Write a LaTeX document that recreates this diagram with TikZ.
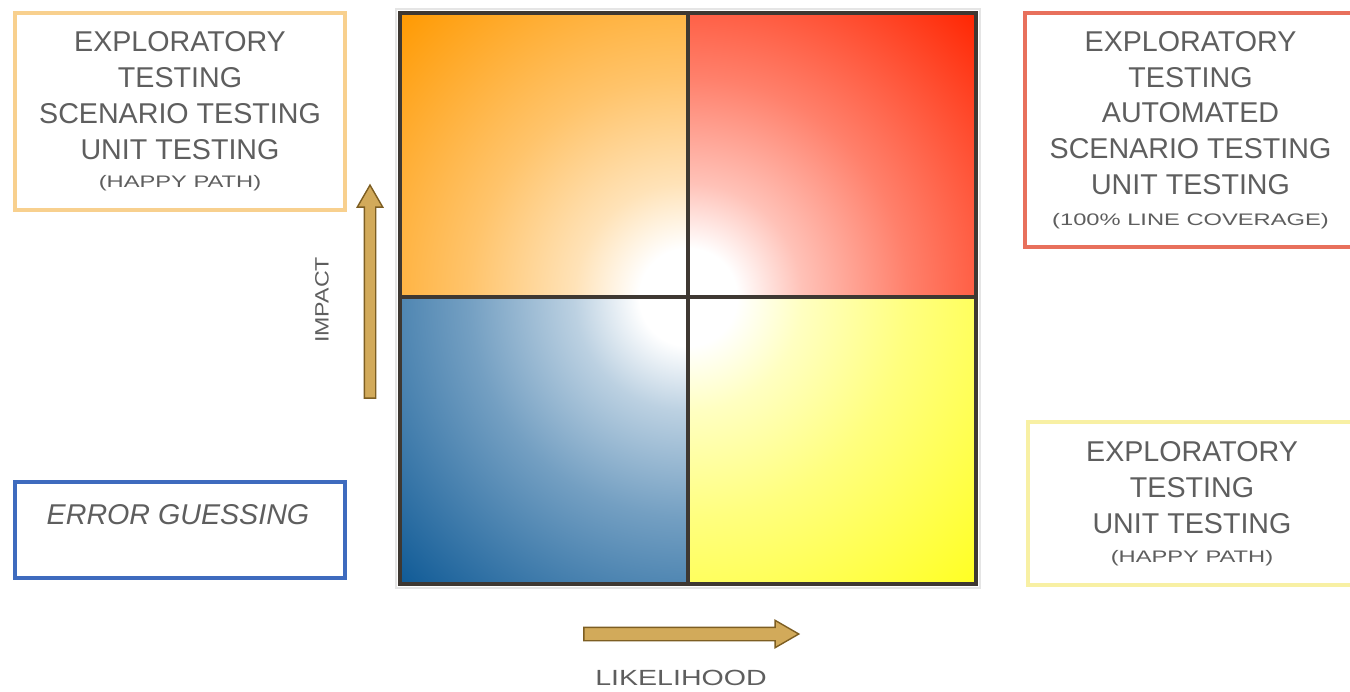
\documentclass[tikz,border=0pt]{standalone}
\usepackage{fontspec}
\setmainfont{Liberation Sans}
\usepackage{graphicx}
\usepackage{pgf, tikz}
\usetikzlibrary{shapes.arrows}
\pgfdeclarelayer{edgelayer}
\pgfdeclarelayer{nodelayer}
\pgfsetlayers{edgelayer,nodelayer,main}
\definecolor{txtgray}{HTML}{5E5E5E}
\definecolor{orangeq}{HTML}{FF9900}
\definecolor{redq}{HTML}{FF2400}
\definecolor{blueq}{HTML}{0F5A96}
\definecolor{yellowq}{HTML}{FFFF22}
\definecolor{orangeline}{HTML}{F8D08E}
\definecolor{redline}{HTML}{E8705C}
\definecolor{yellowline}{HTML}{F8F0A4}
\definecolor{blueline}{HTML}{3E6BBE}
\definecolor{gridline}{HTML}{3E3832}
\definecolor{arrowfill}{HTML}{D2AA5A}
\definecolor{arrowline}{HTML}{7D5E22}
\colorlet{qcol}{orangeq}
\pgfdeclareradialshading[qcol]{quadrant}{\pgfpoint{0bp}{0bp}}{color(0bp)=(white); color(3bp)=(white); color(7bp)=(qcol!28); color(13.5bp)=(qcol!58); color(25bp)=(qcol); color(50bp)=(qcol)}
\newcommand{\bigtxt}{\fontsize{16.3}{20.4}\selectfont}
\newcommand{\smalltxt}[1]{{\fontsize{9.5}{11}\selectfont\scalebox{1.42}[1]{#1}}}
\tikzstyle{grid}=[draw=gridline, line width=1.9pt]
\tikzstyle{notebox}=[rectangle, fill=white, line width=1.8pt, text=txtgray, align=center, font=\bigtxt, inner sep=0pt]
\tikzstyle{orangebox}=[notebox, draw=orangeline, minimum width=6.6cm, minimum height=3.94cm]
\tikzstyle{redbox}=[notebox, draw=redline, minimum width=6.62cm, minimum height=4.68cm]
\tikzstyle{yellowbox}=[notebox, draw=yellowline, minimum width=6.56cm, minimum height=3.26cm]
\tikzstyle{bluebox}=[notebox, draw=blueline, minimum width=6.6cm, minimum height=1.92cm]
\tikzstyle{label}=[text=txtgray, inner sep=0pt]
\tikzstyle{axisarrow}=[single arrow, draw=arrowline, fill=arrowfill, line width=0.8pt, inner xsep=0pt, inner ysep=0.1cm, single arrow head extend=0.14cm, single arrow tip angle=60]
\begin{document}
\begin{tikzpicture}[x=0.02cm, y=-0.02cm]
	\useasboundingbox (0,0) rectangle (1350,691);
	\begin{pgfonlayer}{edgelayer}
		\foreach \xa/\ya/\qc in {400/13/orangeq, 688/13/redq, 400/297/blueq, 688/297/yellowq}{
			\colorlet{qcol}{\qc}
			\begin{scope}
				\clip (\xa,\ya) rectangle ++(288,287);
				\shade[shading=quadrant] (281,-110) rectangle (1095,704);
			\end{scope}
		}
		\draw [gray!20, line width=0.8pt] (396,9) rectangle (980,588);
		\draw [style=grid] (400,13) rectangle (976,584);
		\draw [style=grid] (688,13) -- (688,584);
		\draw [style=grid] (400,297) -- (976,297);
	\end{pgfonlayer}
	\begin{pgfonlayer}{nodelayer}
		\node [style=orangebox] (hiimpact) at (180,111.5) {EXPLORATORY\\TESTING\\SCENARIO TESTING\\UNIT TESTING\\[-4pt]\smalltxt{(HAPPY PATH)}};
		\node [style=redbox] (hiboth) at (1190.5,130) {EXPLORATORY\\TESTING\\AUTOMATED\\SCENARIO TESTING\\UNIT TESTING\\[-3pt]\smalltxt{(100\% LINE COVERAGE)}};
		\node [style=yellowbox] (hilikely) at (1192,503.5) {EXPLORATORY\\TESTING\\UNIT TESTING\\[-4pt]\smalltxt{(HAPPY PATH)}};
		\node [style=bluebox] (lowboth) at (180,530) {};
		\node [style=label, font=\bigtxt\itshape] (guess) at (178,515) {ERROR GUESSING};
		\node [style=axisarrow, rotate=90, minimum height=4.26cm] (uparrow) at (370,296.5) {};
		\node [style=axisarrow, minimum height=4.3cm, inner ysep=0.12cm] (rightarrow) at (685.5,634) {};
		\node [style=label, rotate=90, font=\fontsize{11}{13}\selectfont] (impact) at (322,300) {\scalebox{1.2}[1]{IMPACT}};
		\node [style=label, font=\fontsize{12.5}{15}\selectfont] (likelihood) at (681,678) {\scalebox{1.3}[1]{LIKELIHOOD}};
	\end{pgfonlayer}
\end{tikzpicture}
\end{document}
